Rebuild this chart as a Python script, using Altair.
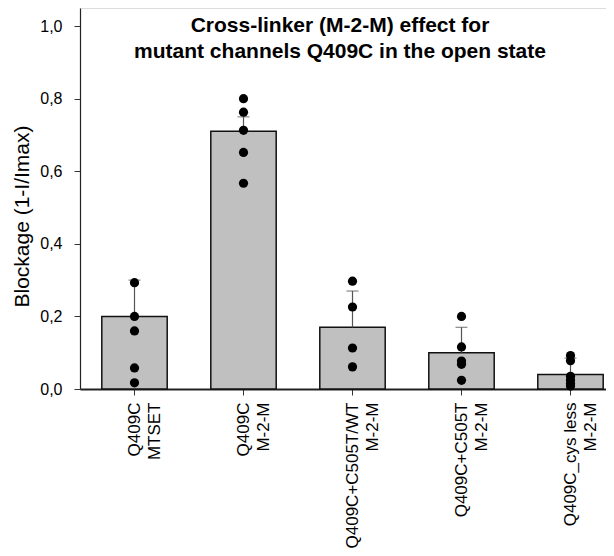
import altair as alt
import pandas as pd

categories = ["Q409C\nMTSET", "Q409C\nM-2-M", "Q409C+C505T/WT\nM-2-M",
              "Q409C+C505T\nM-2-M", "Q409C_cys less\nM-2-M"]
means = [0.20, 0.71, 0.17, 0.10, 0.04]
upper = [0.30, 0.75, 0.27, 0.17, 0.085]

points = {
    categories[0]: [0.293, 0.20, 0.16, 0.058, 0.017],
    categories[1]: [0.80, 0.763, 0.713, 0.652, 0.567],
    categories[2]: [0.297, 0.226, 0.113, 0.061],
    categories[3]: [0.20, 0.116, 0.077, 0.068, 0.024],
    categories[4]: [0.092, 0.078, 0.035, 0.025, 0.015, 0.008],
}
y_ticks = [0.0, 0.2, 0.4, 0.6, 0.8, 1.0]
title_lines = ["Cross-linker (M-2-M) effect for",
               "mutant channels Q409C in the open state"]

bars_df = pd.DataFrame({"cat": categories, "mean": means, "upper": upper})
pts_df = pd.DataFrame([(c, v) for c, vs in points.items() for v in vs],
                      columns=["cat", "val"])

FONT = "Liberation Sans"

x_enc = alt.X("cat:N", sort=categories, title=None,
              scale=alt.Scale(range=[0, 545], paddingInner=0.4, paddingOuter=0.2),
              axis=alt.Axis(labelAngle=-90, labelAlign="right", labelBaseline="middle",
                            labelFontSize=17, labelFont=FONT, labelColor="black",
                            labelPadding=7, tickSize=6, tickColor="#333333",
                            domainColor="#222222", domainWidth=2,
                            labelExpr="split(datum.label, '\\n')", labelLineHeight=20))
y_scale = alt.Scale(domain=[0, 1.05], nice=False, zero=True)
y_enc = alt.Y("mean:Q", scale=y_scale, title="Blockage (1-I/Imax)",
              axis=alt.Axis(values=y_ticks, grid=False,
                            labelExpr="replace(format(datum.value, '.1f'), '.', ',')",
                            labelFontSize=16, labelFont=FONT, labelColor="black",
                            labelPadding=12, tickSize=6, tickColor="#333333",
                            domainColor="#222222", domainWidth=1.2,
                            titleFont=FONT, titleFontSize=21, titleFontWeight="normal",
                            titleColor="black", titleX=-58, titleY=208,
                            titleAlign="center", titleBaseline="middle", titleAngle=-90))

base = alt.Chart(bars_df)
bars = base.mark_bar(color="#c0c0c0", stroke="#111111", strokeWidth=1.5).encode(
    x=x_enc, y=y_enc)
err = base.mark_rule(color="#555555", strokeWidth=1.2).encode(
    x=alt.X("cat:N", sort=categories), y=alt.Y("mean:Q", scale=y_scale), y2="upper:Q")
cap = base.mark_tick(color="#555555", thickness=1.2, size=12, orient="horizontal").encode(
    x=alt.X("cat:N", sort=categories), y=alt.Y("upper:Q", scale=y_scale))
dots = alt.Chart(pts_df).mark_circle(size=85, color="black", opacity=1).encode(
    x=alt.X("cat:N", sort=categories), y=alt.Y("val:Q", scale=y_scale))

chart = alt.layer(bars, err, cap, dots).properties(
    width=526, height=381,
    autosize=alt.AutoSizeParams(type="none"),
    padding={"left": 72, "top": 0, "right": 0, "bottom": 159},
    title=alt.TitleParams(text=title_lines, font=FONT, fontSize=21, fontWeight="bold",
                          color="black", anchor="middle", frame="group", orient="top",
                          baseline="top", offset=0, dy=54, lineHeight=26, dx=-3),
).configure_view(stroke=None).configure(background="white")

chart.save("out.html", embed_options={"renderer": "svg", "actions": False})
